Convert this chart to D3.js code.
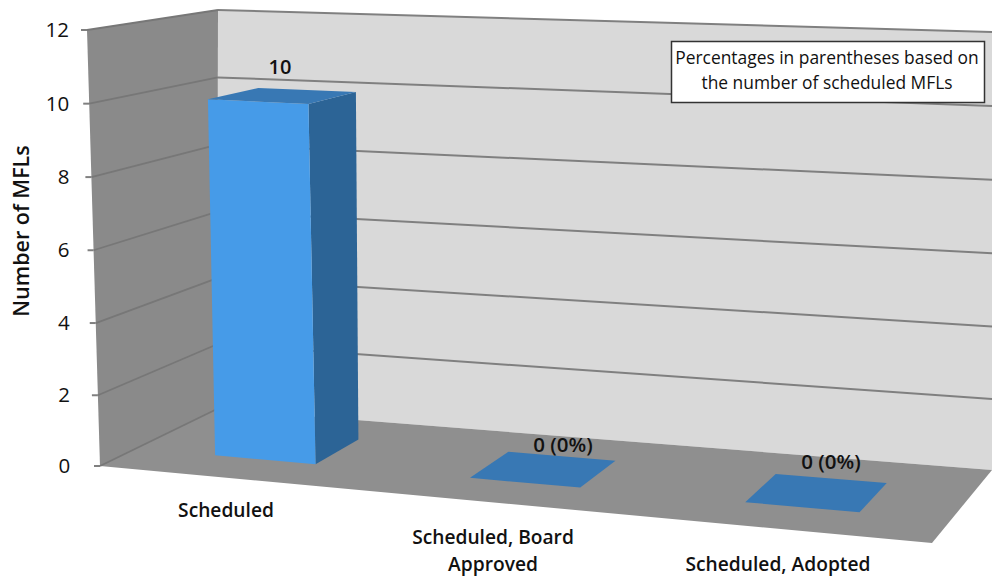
<!DOCTYPE html>
<html>
<head>
<meta charset="utf-8">
<script src="https://cdn.jsdelivr.net/npm/d3@7"></script>
<style>
    html, body { margin: 0; padding: 0; background: #fff; }
    svg { display: block; }
    text { font-family: "Open Sans", sans-serif; fill: #111; }
</style>
</head>
<body>
<div id="chart"></div>
<script>
const categories = ["Scheduled", "Scheduled, Board Approved", "Scheduled, Adopted"];
const values = [10, 0, 0];
const valueLabels = ["10", "0 (0%)", "0 (0%)"];
const yTicks = [0, 2, 4, 6, 8, 10, 12];

const width = 992;
const height = 577;

// corners of the 3d box: [u][w] at value 0 and at value 12
const corners = {
    low:  { fl: [100, 466], fr: [932, 543], bl: [217, 409], br: [992, 470] },
    high: { fl: [87, 30],   fr: [920, 66],  bl: [218, 10],  br: [992, 32] }
};

// heights bunch up slightly towards the floor
const v = d3.scalePow().exponent(1.015).domain([0, 12]).range([0, 1]);

// where each bar sits along the floor and how deep
const u = d3.scaleBand()
    .domain(categories)
    .range([-0.002, 0.976])
    .paddingInner(0.6)
    .paddingOuter(0.3);
const depthFront = 0.31;
const depthBack = 0.72;

// perspective along the floor, bars get wider further right
const warp = d3.scaleLinear()
    .domain([0, 0.096, 0.226, 0.422, 0.552, 0.748, 0.878, 1])
    .range([0, 0.097, 0.220, 0.410, 0.545, 0.748, 0.888, 1]);

function project(a, w, val) {
    const plane = c => {
        const front = d3.interpolate(c.fl, c.fr)(a);
        const back = d3.interpolate(c.bl, c.br)(a);
        return d3.interpolate(front, back)(w);
    };
    return d3.interpolate(plane(corners.low), plane(corners.high))(v(val));
}

const svg = d3.select("#chart")
    .append("svg")
    .attr("width", width)
    .attr("height", height);

const poly = pts => "M" + pts.map(p => p.join(",")).join("L") + "Z";

function face(pts, fill) {
    svg.append("path").attr("d", poly(pts)).attr("fill", fill);
}

// walls and floor
face([project(0, 1, 0), project(1, 1, 0), project(1, 1, 12), project(0, 1, 12)], "#d9d9d9");
face([project(0, 0, 0), project(0, 1, 0), project(0, 1, 12), project(0, 0, 12)], "#8a8a8a");
face([project(0, 0, 0), project(1, 0, 0), project(1, 1, 0), project(0, 1, 0)], "#8f8f8f");

// gridlines
yTicks.forEach(t => {
    if (t > 0) {
        svg.append("path")
            .attr("d", d3.line()([project(0, 1, t), project(1, 1, t)]))
            .attr("stroke", "#808080")
            .attr("stroke-width", 2)
            .attr("fill", "none");
    }
    svg.append("path")
        .attr("d", d3.line()([project(0, 0, t), project(0, 1, t)]))
        .attr("stroke", "#777")
        .attr("stroke-width", 1.8)
        .attr("fill", "none");

    const p = project(0, 0, t);
    svg.append("line")
        .attr("x1", p[0] - 6)
        .attr("x2", p[0])
        .attr("y1", p[1])
        .attr("y2", p[1])
        .attr("stroke", "#808080")
        .attr("stroke-width", 2);

    svg.append("text")
        .attr("x", 69 + (12 - t) * 0.1)
        .attr("y", p[1] + 7)
        .attr("text-anchor", "end")
        .style("font-size", "20.5px")
        .text(t);
});

// bars
categories.forEach((c, i) => {
    const a0 = warp(u(c));
    const a1 = warp(u(c) + u.bandwidth());
    const val = values[i];
    if (val > 0) {
        face([project(a1, depthFront, 0), project(a1, depthBack, 0), project(a1, depthBack, val), project(a1, depthFront, val)], "#2c6496");
        face([project(a0, depthFront, 0), project(a1, depthFront, 0), project(a1, depthFront, val), project(a0, depthFront, val)], "#469be8");
    }
    face([project(a0, depthFront, val), project(a1, depthFront, val), project(a1, depthBack, val), project(a0, depthBack, val)], "#3878b4");
});

// value labels
const valueLabelPos = [[280, 74], [563, 452], [831, 469]];
valueLabels.forEach((d, i) => {
    svg.append("text")
        .attr("x", valueLabelPos[i][0])
        .attr("y", valueLabelPos[i][1])
        .attr("text-anchor", "middle")
        .style("font-size", i === 0 ? "20px" : "20.5px")
        .style("font-weight", 600)
        .text(d);
});

// category labels
const categoryLines = [["Scheduled"], ["Scheduled, Board", "Approved"], ["Scheduled, Adopted"]];
const categoryPos = [[226, 517], [493, 544], [778, 571]];
categoryLines.forEach((lines, i) => {
    lines.forEach((line, j) => {
        svg.append("text")
            .attr("x", categoryPos[i][0])
            .attr("y", categoryPos[i][1] + j * 27)
            .attr("text-anchor", "middle")
            .style("font-size", "19.2px")
            .style("font-weight", 600)
            .text(line);
    });
});

// axis title
svg.append("text")
    .attr("transform", "translate(29,231) rotate(-90)")
    .attr("text-anchor", "middle")
    .style("font-size", "21.5px")
    .style("font-weight", 600)
    .text("Number of MFLs");

// note box
svg.append("rect")
    .attr("x", 671.5)
    .attr("y", 41.5)
    .attr("width", 313)
    .attr("height", 61)
    .attr("fill", "#fff")
    .attr("stroke", "#333")
    .attr("stroke-width", 1.5);

["Percentages in parentheses based on", "the number of scheduled MFLs"].forEach((line, i) => {
    svg.append("text")
        .attr("x", 827)
        .attr("y", 64 + i * 25)
        .attr("text-anchor", "middle")
        .style("font-size", "17.4px")
        .text(line);
});
</script>
</body>
</html>
